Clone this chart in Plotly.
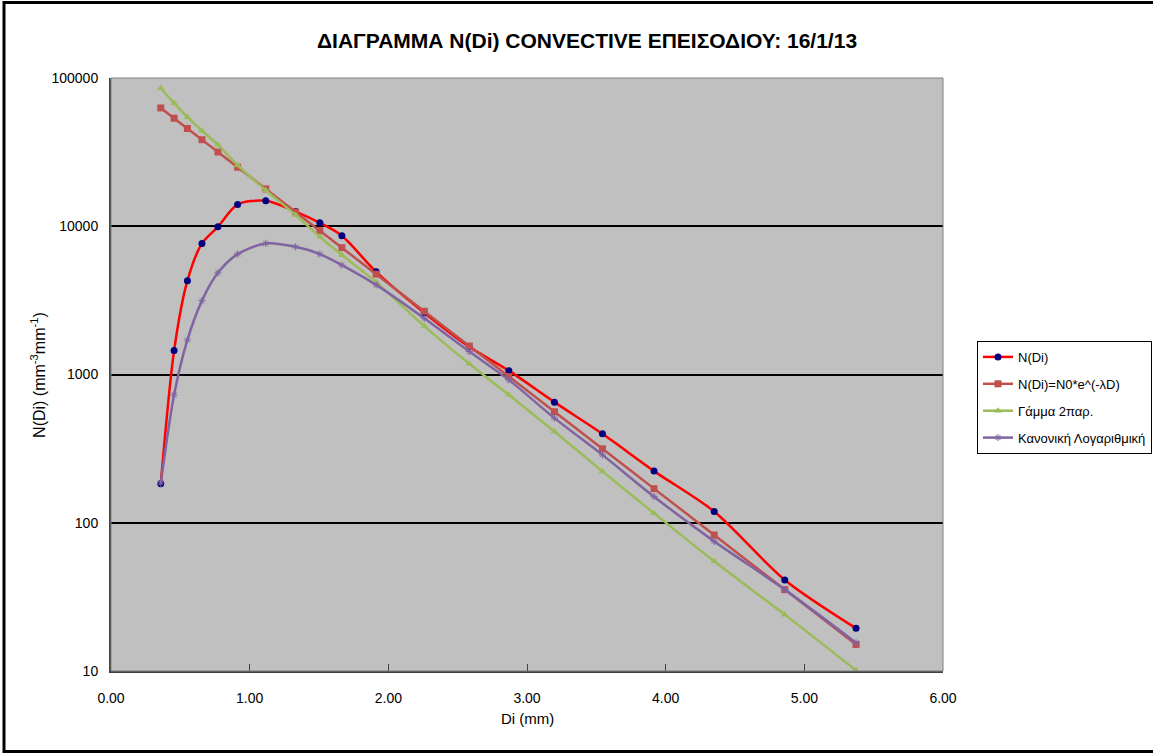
import plotly.graph_objects as go

# Drop diameter class centres (mm)
diam = [0.359, 0.455, 0.551, 0.656, 0.771, 0.913, 1.116, 1.331, 1.506, 1.665,
        1.912, 2.259, 2.584, 2.869, 3.198, 3.544, 3.916, 4.350, 4.859, 5.373]

# Measured N(Di)
n_meas = [183, 1449, 4295, 7660, 9910, 14030, 14840, 12560, 10550, 8630,
          4930, 2612, 1535, 1062, 651, 398, 223, 119, 41.1, 19.4]

# Exponential fit N0*e^(-lambda D)
n_exp = [62810, 53560, 45650, 38340, 31680, 25010, 17850, 12480, 9333, 7165,
         4752, 2670, 1555, 968.5, 560.5, 315.3, 169.9, 82.6, 35.4, 15.1]

# Gamma 2-parameter fit
n_gamma = [85300, 67600, 54400, 44100, 35500, 25800, 17500, 11900, 8490, 6390,
           4200, 2120, 1180, 729, 412, 222, 116, 54.9, 24.0, 10.1]

# Log-normal fit
n_lognorm = [185, 729, 1710, 3150, 4850, 6490, 7660, 7270, 6490, 5470,
             4020, 2395, 1427, 920, 508, 287, 150, 74.9, 35.4, 15.5]

series_names = ["N(Di)", "N(Di)=N0*e^(-λD)", "Γάμμα 2παρ.", "Κανονική Λογαριθμική"]
y_ticks = [10, 100, 1000, 10000, 100000]
y_tick_text = ["10", "100", "1000", "10000", "100000"]
x_ticks = [0, 1, 2, 3, 4, 5, 6]
x_tick_text = ["0.00", "1.00", "2.00", "3.00", "4.00", "5.00", "6.00"]

FONT = "Liberation Sans, Arial, sans-serif"

fig = go.Figure()

fig.add_trace(go.Scatter(
    x=diam, y=n_meas, name=series_names[0], mode="lines+markers",
    line=dict(color="#FF0000", width=2.5, shape="spline", smoothing=0.8),
    marker=dict(symbol="circle", size=7, color="#000080"),
    legendgroup="a"))
fig.add_trace(go.Scatter(
    x=diam, y=n_exp, name=series_names[1], mode="lines+markers",
    line=dict(color="#C0504D", width=2.5, shape="spline", smoothing=0.8),
    marker=dict(symbol="square", size=7, color="#C0504D"),
    legendgroup="b"))
fig.add_trace(go.Scatter(
    x=diam, y=n_gamma, name=series_names[2], mode="lines+markers",
    line=dict(color="#9BBB59", width=2.5, shape="spline", smoothing=0.8),
    marker=dict(symbol="triangle-up", size=7, color="#9BBB59"),
    legendgroup="c"))
fig.add_trace(go.Scatter(
    x=diam, y=n_lognorm, name=series_names[3], mode="lines+markers",
    line=dict(color="#8064A2", width=2.5, shape="spline", smoothing=0.8),
    marker=dict(symbol="asterisk-open", size=6, color="#8064A2",
                line=dict(color="#8064A2", width=1)),
    legendgroup="d"))

W, H = 1153, 756
L, R, T, B = 111, 943, 77.7, 671.5

def px(xp):
    return (xp - L) / (R - L)

def py(yp):
    return (B - yp) / (B - T)

fig.update_layout(
    width=W, height=H,
    margin=dict(l=L, r=W - R, t=T, b=H - B, autoexpand=False),
    paper_bgcolor="white",
    plot_bgcolor="#C0C0C0",
    font=dict(family=FONT, size=13, color="black"),
    showlegend=True,
    legend=dict(
        x=px(977), y=py(341), xanchor="left", yanchor="top",
        bgcolor="white", bordercolor="black", borderwidth=1,
        font=dict(family=FONT, size=13, color="black"),
        tracegroupgap=7, itemwidth=30, entrywidth=200,
    ),
    xaxis=dict(
        range=[0, 6], tickvals=x_ticks, ticktext=x_tick_text,
        ticks="inside", ticklen=7, tickcolor="#404040", tickwidth=1,
        showgrid=False, zeroline=False,
        showline=True, linecolor="#404040", linewidth=2, mirror=False,
        ticklabelstandoff=13,
        tickfont=dict(family=FONT, size=14, color="black"),
    ),
    yaxis=dict(
        type="log", range=[1, 5], tickvals=y_ticks, ticktext=y_tick_text,
        ticks="", showgrid=True, gridcolor="black", gridwidth=1.5,
        zeroline=False,
        showline=True, linecolor="#404040", linewidth=2, mirror=False,
        ticklabelstandoff=8,
        tickfont=dict(family=FONT, size=14, color="black"),
    ),
    annotations=[
        dict(text="<b>ΔΙΑΓΡΑΜΜΑ N(Di) CONVECTIVE ΕΠΕΙΣΟΔΙΟΥ: 16/1/13</b>",
             xref="paper", yref="paper", x=px(587), y=py(40),
             xanchor="center", yanchor="middle", showarrow=False,
             font=dict(family=FONT, size=21, color="black")),
        dict(text="Di (mm)", xref="paper", yref="paper", x=px(527), y=py(719),
             xanchor="center", yanchor="middle", showarrow=False,
             font=dict(family=FONT, size=15, color="black")),
        dict(text="N(Di) (mm<sup>-3</sup>mm<sup>-1</sup>)", xref="paper", yref="paper",
             x=px(38), y=py(375), xanchor="center", yanchor="middle",
             textangle=-90, showarrow=False,
             font=dict(family=FONT, size=16, color="black")),
    ],
    shapes=[
        # plot-area frame (top/right)
        dict(type="rect", xref="paper", yref="paper", x0=0, y0=0, x1=1, y1=1,
             line=dict(color="#808080", width=1), layer="above"),
        # outer chart border
        dict(type="rect", xref="paper", yref="paper",
             x0=px(4), x1=px(1170), y0=py(752), y1=py(2),
             line=dict(color="black", width=3), layer="above"),
    ],
)

fig.write_html("out.html")
